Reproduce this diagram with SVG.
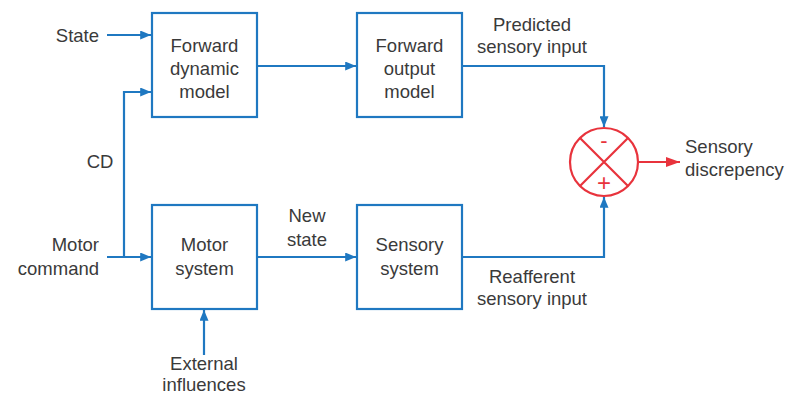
<svg xmlns="http://www.w3.org/2000/svg" width="789" height="394" viewBox="0 0 789 394">
<style>
.box{fill:#fff;stroke:#1f78c1;stroke-width:2.2}
.ln{fill:none;stroke:#1f78c1;stroke-width:2.2}
.rd{fill:none;stroke:#e8333c;stroke-width:2.2}
text{font-family:"Liberation Sans",Arial,sans-serif;font-size:18.5px;fill:#3a3a3a}
.c{text-anchor:middle}
.r{text-anchor:end}
</style>
<defs>
<marker id="ab" viewBox="0 0 12 10" refX="12" refY="5" markerWidth="12" markerHeight="9" orient="auto" markerUnits="userSpaceOnUse"><path d="M0,0 L12,5 L0,10 Z" fill="#1f78c1"/></marker>
<marker id="ar" viewBox="0 0 14 10" refX="14" refY="5" markerWidth="14" markerHeight="10" orient="auto" markerUnits="userSpaceOnUse"><path d="M0,0 L14,5 L0,10 Z" fill="#e8333c"/></marker>
</defs>
<g id="connectors">
<path class="ln" d="M107,35 H151" style="marker-end:url(#ab)"/>
<path class="ln" d="M124,257 V92 H151" style="marker-end:url(#ab)"/>
<path class="ln" d="M107,257 H151" style="marker-end:url(#ab)"/>
<path class="ln" d="M257,66 H356" style="marker-end:url(#ab)"/>
<path class="ln" d="M462,66 H604 V127" style="marker-end:url(#ab)"/>
<path class="ln" d="M257,257 H356" style="marker-end:url(#ab)"/>
<path class="ln" d="M462,257 H604 V197" style="marker-end:url(#ab)"/>
<path class="ln" d="M204,355 V310" style="marker-end:url(#ab)"/>
<path class="rd" d="M638,162 H680" style="marker-end:url(#ar)"/>
</g>
<g id="fdm">
<rect class="box" x="152" y="13" width="105" height="104"/>
<text class="c" x="204.5" y="52">Forward</text>
<text class="c" x="204.5" y="75">dynamic</text>
<text class="c" x="204.5" y="98">model</text>
</g>
<g id="fom">
<rect class="box" x="357" y="13" width="105" height="104"/>
<text class="c" x="409.5" y="52">Forward</text>
<text class="c" x="409.5" y="75">output</text>
<text class="c" x="409.5" y="98">model</text>
</g>
<g id="motor">
<rect class="box" x="152" y="205" width="105" height="104"/>
<text class="c" x="204.5" y="251">Motor</text>
<text class="c" x="204.5" y="275">system</text>
</g>
<g id="sensory">
<rect class="box" x="357" y="205" width="105" height="104"/>
<text class="c" x="409.5" y="251">Sensory</text>
<text class="c" x="409.5" y="275">system</text>
</g>
<g id="comparator">
<circle class="rd" cx="604" cy="162" r="34"/>
<path class="rd" d="M580,138 L628,186 M628,138 L580,186"/>
<text class="c" x="604" y="148" style="fill:#e8333c;font-size:22px">-</text>
<text class="c" x="604" y="191" style="fill:#e8333c;font-size:24px">+</text>
</g>
<g id="labels">
<text class="r" x="99" y="42">State</text>
<text class="c" x="100" y="168">CD</text>
<text class="r" x="99" y="251">Motor</text>
<text class="r" x="99" y="275">command</text>
<text class="c" x="307" y="222">New</text>
<text class="c" x="307" y="246">state</text>
<text class="c" x="532" y="31">Predicted</text>
<text class="c" x="532" y="53">sensory input</text>
<text class="c" x="532" y="283">Reafferent</text>
<text class="c" x="532" y="305">sensory input</text>
<text x="685" y="153">Sensory</text>
<text x="685" y="176">discrepency</text>
<text class="c" x="204" y="370">External</text>
<text class="c" x="204" y="391">influences</text>
</g>
</svg>
